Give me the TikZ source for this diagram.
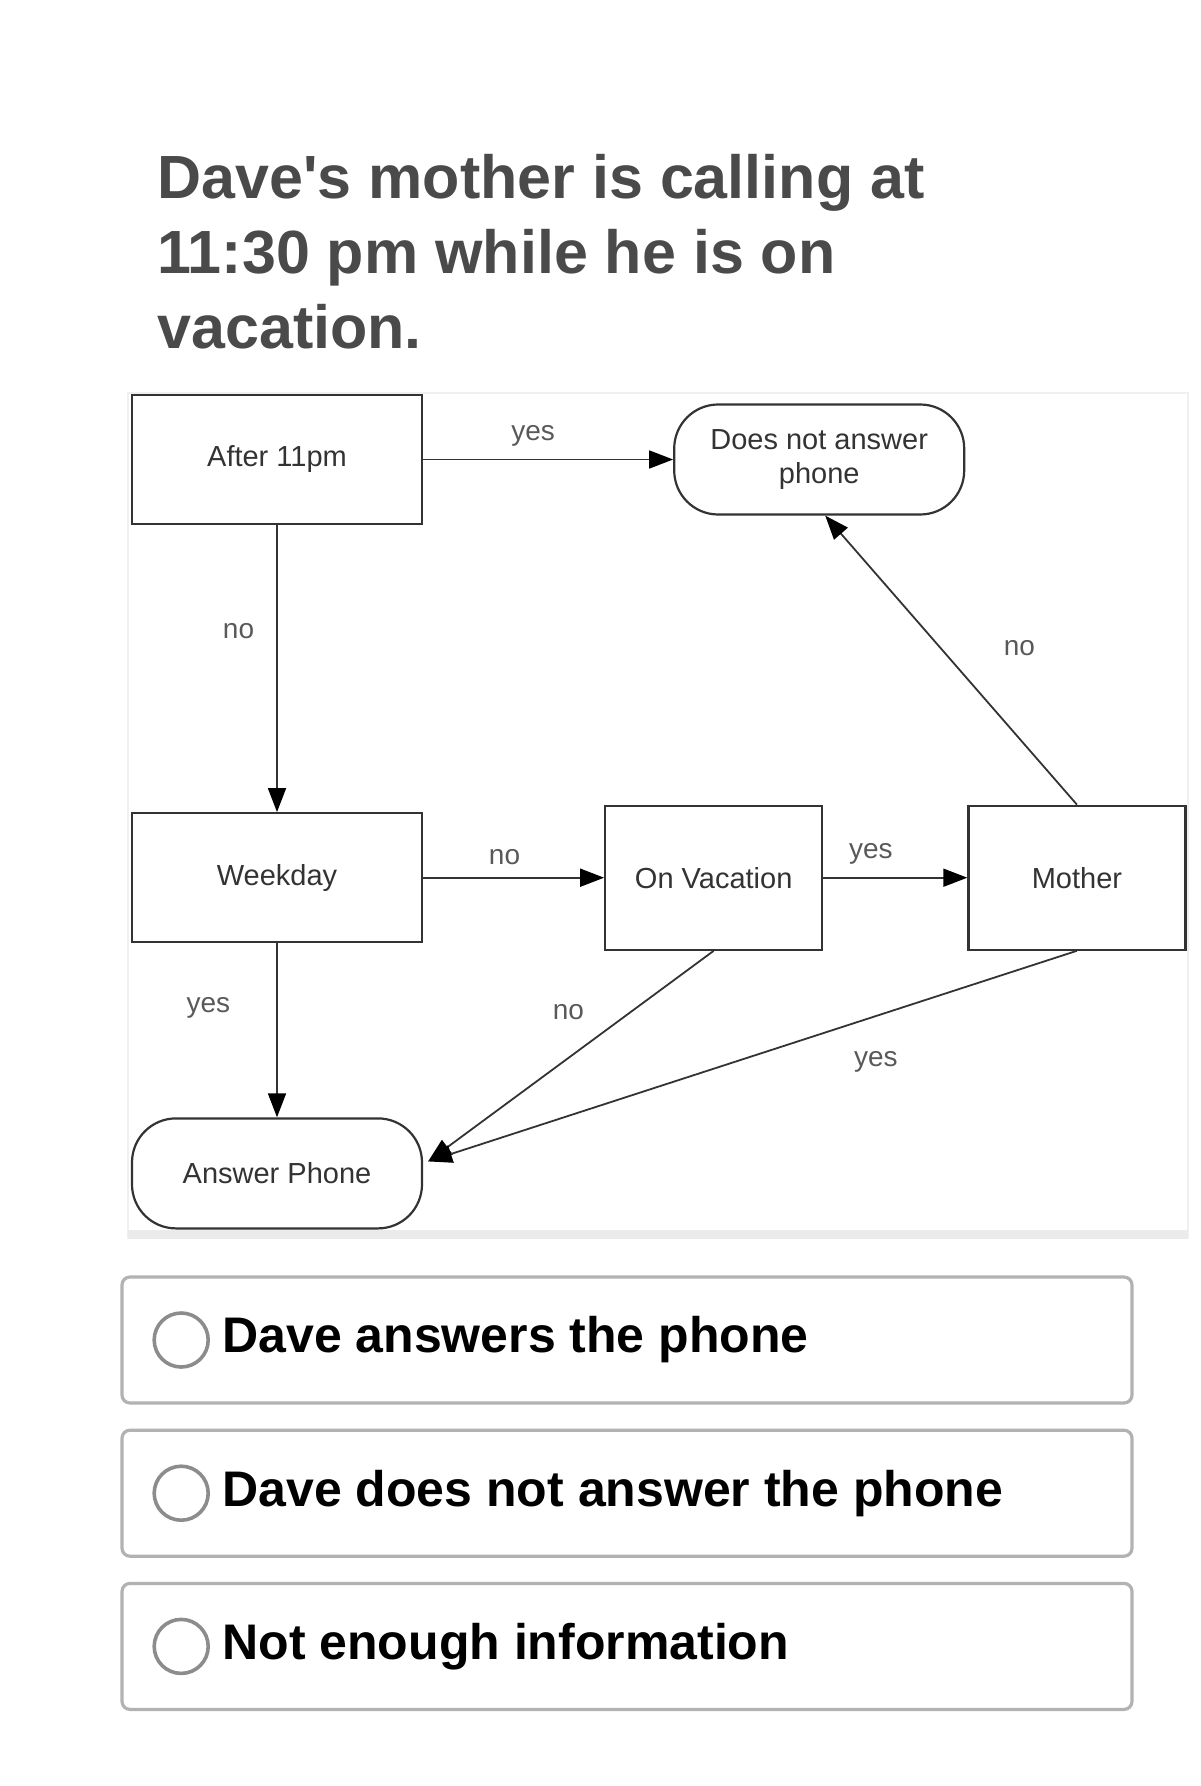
\documentclass[tikz,border=0pt]{standalone}
\usepackage{fontspec}
\setmainfont{Liberation Sans}
\usetikzlibrary{arrows.meta,positioning}
\definecolor{titlegray}{HTML}{4A4A4A}
\definecolor{inkgray}{HTML}{333333}

\begin{document}
\begin{tikzpicture}[
  x=0.5pt, y=-0.5pt,
  node distance=1cm,
  title/.style={align=left, inner sep=0pt, text=titlegray, font=\fontsize{30.5}{37.5}\selectfont\bfseries},
  box/.style={rectangle, draw=inkgray, line width=1.1pt, align=center, text=inkgray, font=\fontsize{14.5}{17}\selectfont, minimum width=145pt, minimum height=64.5pt, inner sep=2pt},
  endbox/.style={box, rounded corners=22pt, minimum height=55pt},
  smallbox/.style={box, minimum width=108.5pt, minimum height=72pt},
  arr/.style={-{Triangle[length=12pt,width=9pt,color=black]}, line width=0.9pt, draw=inkgray},
  lbl/.style={font=\fontsize{14}{16}\selectfont, text=black!65, inner sep=1pt},
  option/.style={rectangle, draw=black!30, line width=1.6pt, rounded corners=4pt, minimum width=505pt, minimum height=63pt},
  radio/.style={circle, draw=black!45, line width=1.8pt, minimum size=27pt, inner sep=0pt},
  answer/.style={anchor=west, inner sep=0pt, text=black, font=\fontsize{25}{30}\selectfont\bfseries}
]
\useasboundingbox (0,0) rectangle (1200,1786);

% question
\node[title, anchor=north west] (question) at (157,154) {Dave\textquotesingle s mother is calling at\\11:30 pm while he is on\\vacation.};

% diagram panel
\draw[draw=black!6, line width=1pt] (128,393) rectangle (1188,1238);
\fill[black!8] (128,1230) rectangle (1188,1239);

\node[box] (after) at (277,459.5) {After 11pm};
\node[endbox, right=125pt of after] (noanswer) {Does not answer\\phone};
\node[box, below=143.5pt of after] (weekday) {Weekday};
\node[smallbox, right=90.5pt of weekday] (vacation) {On Vacation};
\node[smallbox, right=72pt of vacation] (mother) {Mother};
\node[endbox, below=87pt of weekday] (answer) {Answer Phone};
\coordinate (hit) at ([xshift=2.5pt,yshift=6pt]answer.east);

\draw[arr] (after) -- node[lbl, pos=0.44, above=5pt] {yes} (noanswer);
\draw[arr] (after) -- node[lbl, pos=0.37, left=10pt] {no} (weekday);
\draw[arr] (weekday) -- node[lbl, pos=0.45, above=5pt] {no} (vacation);
\draw[arr] (vacation) -- node[lbl, pos=0.33, above=5pt] {yes} (mother);
\draw[arr] (mother.north) -- node[lbl, pos=0.54, right=30pt] {no} ([xshift=3pt]noanswer.south);
\draw[arr] (weekday) -- node[lbl, pos=0.37, left=22pt] {yes} (answer);
\draw[arr] (vacation.south) -- node[lbl, pos=0.29, left=22pt] {no} (hit);
\draw[arr] (mother.south) -- node[lbl, pos=0.31, below=16pt] {yes} (hit);

% answer choices
\node[option] (opt1) at (627,1340) {};
\node[option, below=12pt of opt1] (opt2) {};
\node[option, below=12pt of opt2] (opt3) {};
\node[radio, right=16pt of opt1.west] (radio1) {};
\node[radio, right=16pt of opt2.west] (radio2) {};
\node[radio, right=16pt of opt3.west] (radio3) {};
\node[answer, right=6pt of radio1] (text1) {Dave answers the phone};
\node[answer, right=6pt of radio2] (text2) {Dave does not answer the phone};
\node[answer, right=6pt of radio3] (text3) {Not enough information};
\end{tikzpicture}
\end{document}
